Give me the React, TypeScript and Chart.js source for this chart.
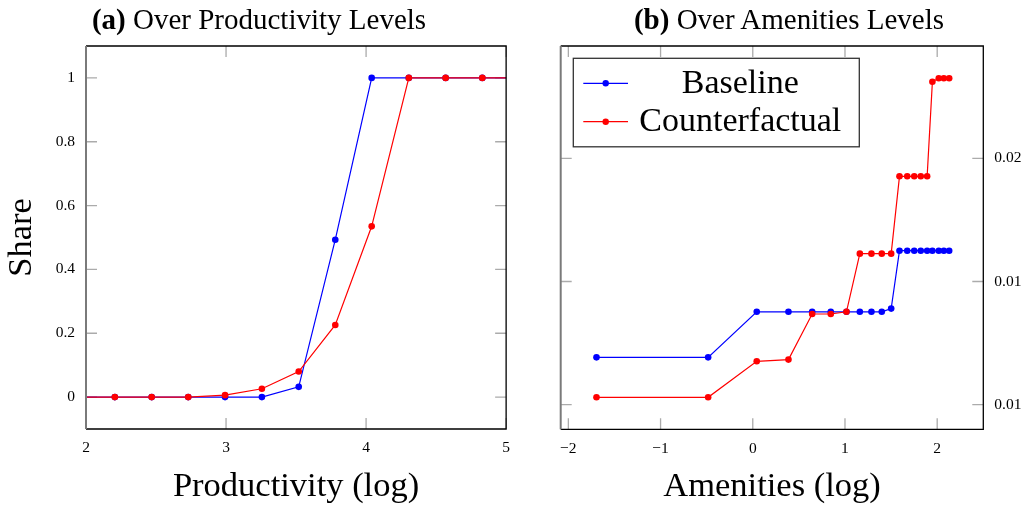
import React, { useEffect, useRef } from "react";
import { Chart, registerables } from "chart.js";

Chart.register(...registerables);

const FONT = "'Liberation Serif', 'Times New Roman', serif";

// ---- Panel (a): productivity ----
const prodX = [1.94, 2.206, 2.469, 2.73, 2.993, 3.256, 3.519, 3.78, 4.04, 4.305, 4.568, 4.83, 5.09];
const prodBaseline = [0, 0, 0, 0, 0, 0, 0.032, 0.493, 1, 1, 1, 1, 1];
const prodCounterfactual = [0, 0, 0, 0, 0.006, 0.026, 0.08, 0.226, 0.535, 1, 1, 1, 1];
const prodXTicks = [2, 3, 4, 5];
const prodXTickLabels = ["2", "3", "4", "5"];
const prodYTicks = [0, 0.2, 0.4, 0.6, 0.8, 1];
const prodYTickLabels = ["0", "0.2", "0.4", "0.6", "0.8", "1"];

// ---- Panel (b): amenities ----
const amenX = [-1.695, -0.484, 0.043, 0.387, 0.644, 0.846, 1.016, 1.161, 1.287, 1.399, 1.501, 1.591, 1.675, 1.751, 1.822, 1.891, 1.948, 2.017, 2.072, 2.13];
const amenBaseline = [0.00692, 0.00692, 0.00877, 0.00877, 0.00877, 0.00877, 0.00877, 0.00877, 0.00877, 0.00877, 0.0089, 0.01125, 0.01125, 0.01125, 0.01125, 0.01125, 0.01125, 0.01125, 0.01125, 0.01125];
const amenCounterfactual = [0.0053, 0.0053, 0.00676, 0.00683, 0.00868, 0.00868, 0.00877, 0.01113, 0.01113, 0.01113, 0.01113, 0.01427, 0.01427, 0.01427, 0.01427, 0.01427, 0.01811, 0.01825, 0.01825, 0.01825];
const amenXTicks = [-2, -1, 0, 1, 2];
const amenXTickLabels = ["\u22122", "\u22121", "0", "1", "2"];
const amenYTicks = [0.005, 0.01, 0.015];
const amenYTickLabels = ["0.01", "0.01", "0.02"];

const seriesNames = ["Baseline", "Counterfactual"];
const seriesColors = ["#0000ff", "#ff0000"];

const TICK_LEN = 11;

const frameTicksPlugin = {
  id: "frameTicks",
  beforeDatasetsDraw(chart: any) {
    const { ctx, chartArea: a } = chart;
    const xs = chart.scales.x;
    const ys = chart.scales.y;
    ctx.save();
    ctx.strokeStyle = "#ababab";
    ctx.lineWidth = 1.3;
    ctx.beginPath();
    xs.ticks.forEach((t: any) => {
      const px = xs.getPixelForValue(t.value);
      ctx.moveTo(px, a.top);
      ctx.lineTo(px, a.top + TICK_LEN);
      ctx.moveTo(px, a.bottom);
      ctx.lineTo(px, a.bottom - TICK_LEN);
    });
    ys.ticks.forEach((t: any) => {
      const py = ys.getPixelForValue(t.value);
      ctx.moveTo(a.left, py);
      ctx.lineTo(a.left + TICK_LEN, py);
      ctx.moveTo(a.right, py);
      ctx.lineTo(a.right - TICK_LEN, py);
    });
    ctx.stroke();
    ctx.restore();
  },
  afterDatasetsDraw(chart: any) {
    const { ctx, chartArea: a } = chart;
    ctx.save();
    ctx.strokeStyle = "#000";
    ctx.lineWidth = 1.3;
    ctx.beginPath();
    ctx.moveTo(a.left, a.top);
    ctx.lineTo(a.right, a.top);
    ctx.lineTo(a.right, a.bottom);
    ctx.lineTo(a.left, a.bottom);
    ctx.stroke();
    ctx.strokeStyle = "#7a7a7a";
    ctx.lineWidth = 2;
    ctx.beginPath();
    ctx.moveTo(a.left, a.top);
    ctx.lineTo(a.left, a.bottom);
    ctx.stroke();
    ctx.restore();
  },
};

const boxLegendPlugin = {
  id: "boxLegend",
  afterDraw(chart: any) {
    const { ctx, chartArea: a } = chart;
    const x0 = a.left + 12.6;
    const y0 = a.top + 12.3;
    const w = 286;
    const h = 88.5;
    ctx.save();
    ctx.fillStyle = "#fff";
    ctx.fillRect(x0, y0, w, h);
    ctx.strokeStyle = "#333";
    ctx.lineWidth = 1.3;
    ctx.strokeRect(x0, y0, w, h);
    chart.data.datasets.forEach((ds: any, i: number) => {
      const cy = y0 + 25 + i * 38.4;
      ctx.strokeStyle = ds.borderColor;
      ctx.lineWidth = 1.2;
      ctx.beginPath();
      ctx.moveTo(x0 + 10, cy);
      ctx.lineTo(x0 + 54.7, cy);
      ctx.stroke();
      ctx.fillStyle = ds.backgroundColor;
      ctx.beginPath();
      ctx.arc(x0 + 32.4, cy, 3.2, 0, Math.PI * 2);
      ctx.fill();
      ctx.fillStyle = "#000";
      ctx.font = `34px ${FONT}`;
      ctx.textAlign = "center";
      ctx.textBaseline = "alphabetic";
      ctx.fillText(ds.label, x0 + 167, cy + 9.7);
    });
    ctx.restore();
  },
};

function makeDatasets(xs: number[], a: number[], b: number[]) {
  return [a, b].map((vals, i) => ({
    label: seriesNames[i],
    data: xs.map((x, j) => ({ x, y: vals[j] })),
    borderColor: seriesColors[i],
    backgroundColor: seriesColors[i],
    borderWidth: 1.2,
    pointRadius: 3.3,
    pointBorderWidth: 0,
    pointHoverRadius: 3.3,
    tension: 0,
    order: 1 - i,
  }));
}

function setTicks(values: number[]) {
  return (s: any) => {
    s.ticks = values.map((v) => ({ value: v }));
  };
}

function makeConfig(panel: "a" | "b"): any {
  const isA = panel === "a";
  const datasets = isA
    ? makeDatasets(prodX, prodBaseline, prodCounterfactual)
    : makeDatasets(amenX, amenBaseline, amenCounterfactual);
  const xTicks = isA ? prodXTicks : amenXTicks;
  const xLabels = isA ? prodXTickLabels : amenXTickLabels;
  const yTicks = isA ? prodYTicks : amenYTicks;
  const yLabels = isA ? prodYTickLabels : amenYTickLabels;
  const tickFont = { family: FONT, size: 15.5 };
  const titleFont = { family: FONT, size: 34.5 };
  return {
    type: "line",
    data: { datasets },
    plugins: isA ? [frameTicksPlugin] : [frameTicksPlugin, boxLegendPlugin],
    options: {
      animation: false,
      responsive: false,
      events: [],
      layout: {
        padding: isA
          ? { left: 0, right: 12, top: 46, bottom: 0 }
          : { left: 40.7, right: 0, top: 46, bottom: 0 },
      },
      plugins: {
        legend: { display: false },
        title: { display: false },
        tooltip: { enabled: false },
      },
      scales: {
        x: {
          type: "linear",
          position: "bottom",
          min: isA ? 2 : -2.083,
          max: isA ? 5 : 2.5,
          grid: { display: false, drawTicks: false },
          border: { display: false },
          afterBuildTicks: setTicks(xTicks),
          afterFit: (s: any) => {
            s.height = isA ? 83 : 82.7;
          },
          ticks: {
            autoSkip: false,
            maxRotation: 0,
            padding: 10,
            color: "#000",
            font: tickFont,
            callback: (_v: any, i: number) => xLabels[i],
          },
          title: {
            display: true,
            text: isA ? "Productivity (log)" : "Amenities (log)",
            color: "#000",
            font: titleFont,
            padding: { top: 0, bottom: 4 },
          },
        },
        y: {
          type: "linear",
          position: isA ? "left" : "right",
          min: isA ? -0.1 : 0.004,
          max: isA ? 1.1 : 0.01956,
          grid: { display: false, drawTicks: false },
          border: { display: false },
          afterBuildTicks: setTicks(yTicks),
          afterFit: (s: any) => {
            s.width = isA ? 86 : 42.7;
          },
          ticks: {
            autoSkip: false,
            padding: 11,
            color: "#000",
            font: tickFont,
            callback: (_v: any, i: number) => yLabels[i],
          },
          title: isA
            ? {
                display: true,
                text: "Share",
                color: "#000",
                font: titleFont,
                padding: { top: 1, bottom: 0 },
              }
            : { display: false },
        },
      },
    },
  };
}

function Panel({ panel, left, width }: { panel: "a" | "b"; left: number; width: number }) {
  const ref = useRef<HTMLCanvasElement | null>(null);
  useEffect(() => {
    if (!ref.current) return;
    const chart = new Chart(ref.current, makeConfig(panel));
    return () => chart.destroy();
  }, [panel]);
  return (
    <canvas
      ref={ref}
      width={width}
      height={512}
      style={{ position: "absolute", left, top: 0, width, height: 512 }}
    />
  );
}

function PanelTitle({ tag, text, cx }: { tag: string; text: string; cx: number }) {
  return (
    <div
      style={{
        position: "absolute",
        left: cx - 260,
        width: 520,
        top: 4.5,
        textAlign: "center",
        fontFamily: FONT,
        fontSize: 29,
        lineHeight: "29px",
        color: "#000",
        whiteSpace: "nowrap",
      }}
    >
      <b>{tag}</b> {text}
    </div>
  );
}

export default function App() {
  return (
    <div
      style={{
        position: "absolute",
        left: 0,
        top: 0,
        width: 1026,
        height: 512,
        background: "#fff",
        overflow: "hidden",
      }}
    >
      <Panel panel="a" left={0} width={520} />
      <Panel panel="b" left={520} width={506} />
      <PanelTitle tag="(a)" text="Over Productivity Levels" cx={259} />
      <PanelTitle tag="(b)" text="Over Amenities Levels" cx={789} />
    </div>
  );
}
